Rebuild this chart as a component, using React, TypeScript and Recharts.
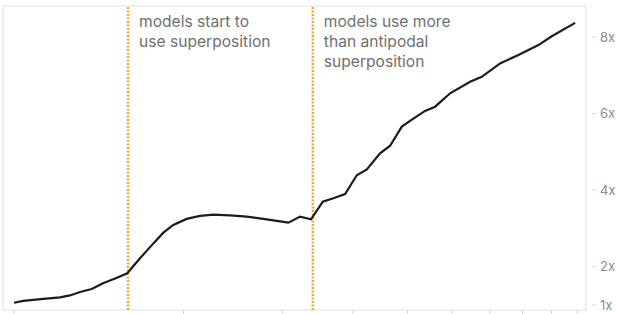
import { LineChart, Line, XAxis, YAxis, ReferenceLine, ReferenceArea } from 'recharts';

const xPoints = [
  1.0, 1.039, 1.127, 1.207, 1.257, 1.31, 1.374, 1.439, 1.512, 1.589,
  1.674, 1.768, 1.842, 1.918, 2.026, 2.14, 2.259, 2.419, 2.591, 2.772,
  2.928, 3.071, 3.221, 3.369, 3.535, 3.691, 3.872, 4.062, 4.232, 4.468,
  4.655, 4.883, 5.12, 5.37, 5.595, 5.949, 6.457, 6.772, 7.298, 7.866,
  8.538, 9.016, 9.918,
];
const yPoints = [
  1.06, 1.11, 1.16, 1.2, 1.25, 1.34, 1.42, 1.57, 1.69, 1.83,
  2.22, 2.61, 2.89, 3.09, 3.25, 3.33, 3.36, 3.34, 3.31, 3.25,
  3.2, 3.15, 3.31, 3.24, 3.7, 3.79, 3.9, 4.39, 4.54, 4.96,
  5.16, 5.66, 5.87, 6.07, 6.18, 6.53, 6.83, 6.96, 7.31, 7.53,
  7.79, 8.02, 8.37,
];
const xTicks = [1, 2, 3, 4, 5, 6, 7, 8, 9, 10];
const yTicks = [1, 2, 4, 6, 8];
const markers = [
  { x: 1.594, lines: ['models start to', 'use superposition'] },
  { x: 3.394, lines: ['models use more', 'than antipodal', 'superposition'] },
];

const data = xPoints.map((x, i) => ({ x, y: yPoints[i] }));

const X_DOMAIN = [0.956, 10.37];
const Y_DOMAIN = [0.87, 8.81];
const FONT = 'Inter, "Noto Sans", sans-serif';

function YTick(props: any) {
  const { x, y, payload } = props;
  return (
    <g>
      <line x1={x + 6} x2={x + 10} y1={y} y2={y} stroke="#d4d4d4" />
      <text x={x + 14} y={y} dy={4.5} fontSize={13} fill="#8c8c8c" fontFamily={FONT}>
        {payload.value}x
      </text>
    </g>
  );
}

function Note(props: any) {
  const { viewBox, lines } = props;
  const x = viewBox.x + 11;
  return (
    <text x={x} y={viewBox.y + 21} fontSize={15.6} fill="#707070" fontFamily={FONT}>
      {lines.map((l: string, i: number) => (
        <tspan key={i} x={x} dy={i ? 20 : 0}>{l}</tspan>
      ))}
    </text>
  );
}

export default function App() {
  return (
    <div style={{ position: 'absolute', left: 0, top: 0 }}>
      <LineChart
        width={617}
        height={314}
        data={data}
        margin={{ top: 6, right: 0, bottom: 0, left: 3 }}
      >
        <XAxis
          dataKey="x"
          type="number"
          scale="log"
          domain={X_DOMAIN}
          allowDataOverflow
          ticks={xTicks}
          interval={0}
          tickFormatter={() => ''}
          tickSize={4}
          height={4}
          axisLine={false}
          tickLine={{ stroke: '#d4d4d4' }}
        />
        <YAxis
          orientation="right"
          type="number"
          domain={Y_DOMAIN}
          allowDataOverflow
          ticks={yTicks}
          interval={0}
          width={31}
          tickSize={0}
          tickMargin={0}
          axisLine={false}
          tickLine={false}
          tick={<YTick />}
        />
        <ReferenceArea
          x1={X_DOMAIN[0]}
          x2={X_DOMAIN[1]}
          y1={Y_DOMAIN[0]}
          y2={Y_DOMAIN[1]}
          fill="none"
          stroke="#dedede"
        />
        {markers.map((m) => (
          <ReferenceLine
            key={m.x}
            x={m.x}
            stroke="#f2a930"
            strokeWidth={2.5}
            strokeDasharray="2 1.5"
            label={<Note lines={m.lines} />}
          />
        ))}
        <Line
          type="linear"
          dataKey="y"
          stroke="#1c1c1c"
          strokeWidth={2.2}
          dot={false}
          isAnimationActive={false}
        />
      </LineChart>
    </div>
  );
}
